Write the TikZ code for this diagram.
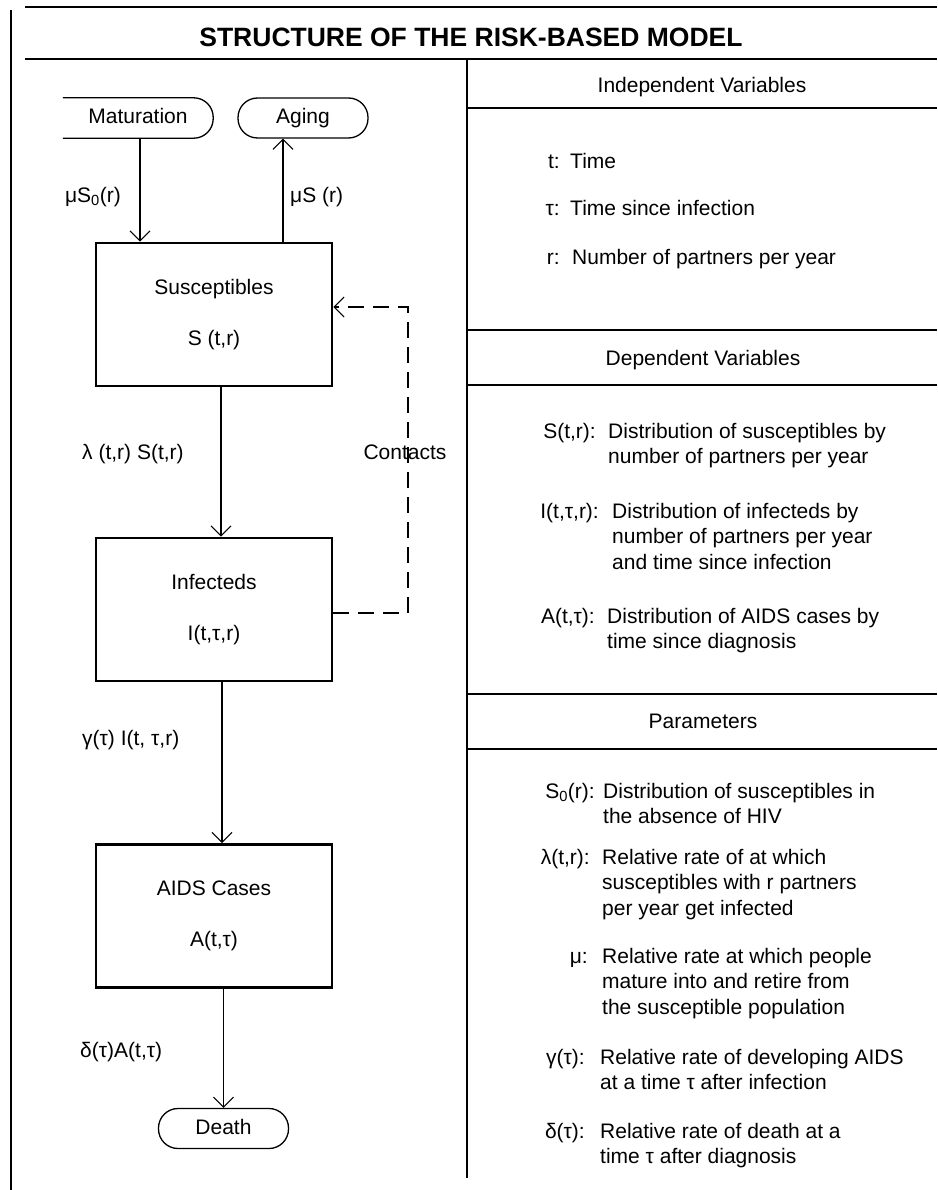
\documentclass[tikz,border=0pt]{standalone}
\usepackage{fontspec}
\setmainfont{Liberation Sans}
\usetikzlibrary{arrows.meta}
\newcommand{\dfs}{\fontsize{21}{25.5}\selectfont}
\newcommand{\ttlfs}{\fontsize{26.5}{30}\selectfont\bfseries}
\begin{document}
\begin{tikzpicture}[x=1pt,y=-1pt,
  every node/.style={inner sep=0pt, font=\dfs},
  frame/.style={line width=1.6pt},
  box/.style={draw, line width=2.6pt, minimum width=236pt, minimum height=143pt, align=center},
  pill/.style={draw, line width=1.3pt, rounded corners=19.5pt, minimum height=40pt, minimum width=130pt},
  flow/.style={line width=1.1pt, -{Straight Barb[length=10pt,width=20pt,line width=1.1pt]}},
  thickflow/.style={line width=2.4pt, -{Straight Barb[length=10pt,width=20pt,line width=1.1pt]}},
  dashflow/.style={line width=1.1pt, dash pattern=on 16pt off 9pt, -{Straight Barb[length=10pt,width=20pt,line width=1.1pt]}},
  lbl/.style={anchor=base east},
  txt/.style={anchor=base west},
  hdr/.style={anchor=center, text height=15pt, text depth=4pt},
  cen/.style={text height=15pt, text depth=4pt}
]
\useasboundingbox (0,0) rectangle (937,1190);
% frame
\draw[frame] (11,10) -- (11,1190);
\draw[frame] (25,7) -- (937,7);
\draw[frame] (25,59) -- (937,59);
\draw[frame] (467,59) -- (467,1178);
\draw[frame] (467,108) -- (937,108);
\draw[frame] (467,330) -- (937,330);
\draw[frame] (467,385) -- (937,385);
\draw[frame] (467,694) -- (937,694);
\draw[frame] (467,749) -- (937,749);

\node[font=\ttlfs, text height=19pt, text depth=0pt] (title) at (471,37) {STRUCTURE OF THE RISK-BASED MODEL};

% left diagram
\node[minimum width=150pt, minimum height=40pt, cen] (mat) at (138,118) {Maturation};
\draw[line width=1.3pt, rounded corners=19.5pt] (mat.north west) -- (mat.north east) -- (mat.south east) -- (mat.south west);
\node[pill, cen] (aging) at (303,118) {Aging};

\node[box] (sus) at (214,314.5) {Susceptibles\\[25.5pt]S (t,r)};
\node[box] (inf) at (214,609.5) {Infecteds\\[25.5pt]I(t,τ,r)};
\node[box] (aids) at (214,916) {AIDS Cases\\[25.5pt]A(t,τ)};
\node[pill, cen] (death) at (223.5,1128.5) {Death};

\draw[thickflow] ([xshift=2pt]mat.south) -- ([xshift=2pt]mat.south |- sus.north);
\draw[flow] ([xshift=-20pt]aging.south |- sus.north) -- ([xshift=-20pt]aging.south);
\draw[flow] ([xshift=7pt]sus.south) -- ([xshift=7pt]inf.north);
\draw[flow] ([xshift=8pt]inf.south) -- ([xshift=8pt]aids.north);
\draw[flow] (aids.south -| death.north) -- (death.north);

\coordinate (c1) at (408,613);
\coordinate (c2) at (408,307);
\draw[dashflow] (inf.east |- c1) -- (c1) -- (c2) -- (sus.east |- c2);
\node[cen] (contacts) at (405,454) {Contacts};

\node[cen, anchor=east] (l1) at (121,197) {μS\textsubscript{0}(r)};
\node[cen, anchor=west] (l2) at (290,197) {μS (r)};
\node[cen, anchor=west] (l3) at (82,454) {λ (t,r) S(t,r)};
\node[cen, anchor=west] (l4) at (82,740) {γ(τ) I(t, τ,r)};
\node[cen, anchor=west] (l5) at (80,1052) {δ(τ)A(t,τ)};

% right side
\node[hdr] (h1) at (702,87) {Independent Variables};
\node[hdr] (h2) at (703,360) {Dependent Variables};
\node[hdr] (h3) at (703,723) {Parameters};

\node[lbl] (a1) at (560,169) {t:};
\node[txt] (b1) at (570,169) {Time};
\node[lbl] (a2) at (560,216) {τ:};
\node[txt] (b2) at (570,216) {Time since infection};
\node[lbl] (a3) at (560,264) {r:};
\node[txt] (b3) at (572,264) {Number of partners per year};

\node[lbl] (a4) at (596,438) {S(t,r):};
\node[txt] (b4) at (608,438) {\begin{tabular}[t]{@{}l@{}}Distribution of susceptibles by\\number of partners per year\end{tabular}};
\node[lbl] (a5) at (599,518) {I(t,τ,r):};
\node[txt] (b5) at (612,518) {\begin{tabular}[t]{@{}l@{}}Distribution of infecteds by\\number of partners per year\\and time since infection\end{tabular}};
\node[lbl] (a6) at (595,623) {A(t,τ):};
\node[txt] (b6) at (607,623) {\begin{tabular}[t]{@{}l@{}}Distribution of AIDS cases by\\time since diagnosis\end{tabular}};

\node[lbl] (a7) at (595,798) {S\textsubscript{0}(r):};
\node[txt] (b7) at (603,798) {\begin{tabular}[t]{@{}l@{}}Distribution of susceptibles in\\the absence of HIV\end{tabular}};
\node[lbl] (a8) at (590,864) {λ(t,r):};
\node[txt] (b8) at (602,864) {\begin{tabular}[t]{@{}l@{}}Relative rate of at which\\susceptibles with r partners\\per year get infected\end{tabular}};
\node[lbl] (a9) at (588,963) {μ:};
\node[txt] (b9) at (602,963) {\begin{tabular}[t]{@{}l@{}}Relative rate at which people\\mature into and retire from\\the susceptible population\end{tabular}};
\node[lbl] (a10) at (585,1064) {γ(τ):};
\node[txt] (b10) at (600,1064) {\begin{tabular}[t]{@{}l@{}}Relative rate of developing AIDS\\at a time τ after infection\end{tabular}};
\node[lbl] (a11) at (585,1138) {δ(τ):};
\node[txt] (b11) at (600,1138) {\begin{tabular}[t]{@{}l@{}}Relative rate of death at a\\time τ after diagnosis\end{tabular}};
\end{tikzpicture}
\end{document}
